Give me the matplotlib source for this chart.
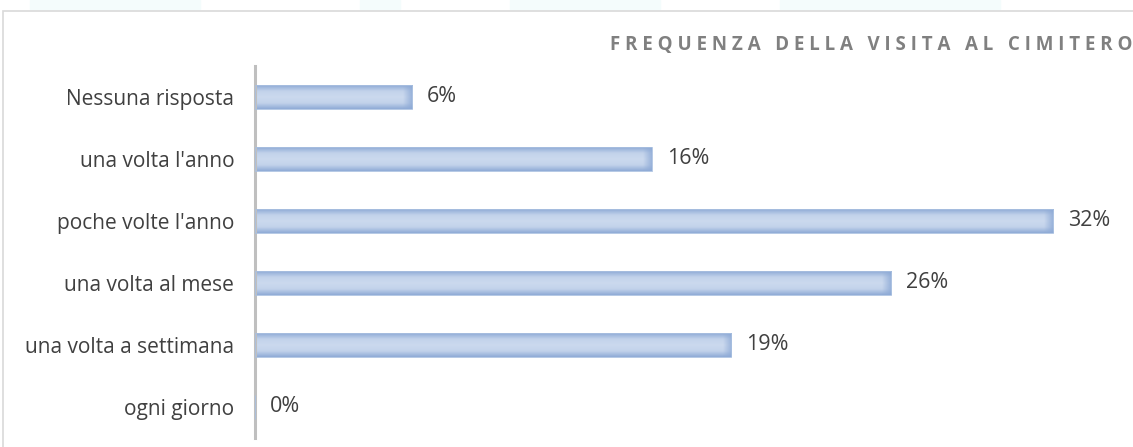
import matplotlib
matplotlib.use("Agg")
import matplotlib.pyplot as plt
import numpy as np
from matplotlib.patches import Rectangle
from matplotlib.colors import LinearSegmentedColormap

# data (percent)
categories = ["ogni giorno", "una volta a settimana", "una volta al mese",
              "poche volte l'anno", "una volta l'anno", "Nessuna risposta"]
values = [0.0, 19.1, 25.5, 32.0, 15.9, 6.3]
labels = ["0%", "19%", "26%", "32%", "16%", "6%"]
title = "FREQUENZA DELLA VISITA AL CIMITERO"

W, H = 1133, 447
fig = plt.figure(figsize=(W / 100, H / 100), dpi=100)
fig.patch.set_facecolor("white")

# faint decorations at very top + light outer frame
for x0, w in [(30, 170), (360, 40), (510, 150), (780, 220)]:
    fig.patches.append(Rectangle((x0 / W, 1 - 9 / H), w / W, 9 / H,
                                 transform=fig.transFigure, color="#f4fcfc", zorder=0))
fig.patches.append(Rectangle((3 / W, -0.05), 1.1, 1 - 11 / H + 0.05,
                             transform=fig.transFigure, fill=False,
                             edgecolor="#d9d9d9", linewidth=1.2, zorder=1))

ax = fig.add_axes([255 / W, (H - 438) / H, (W - 255) / W, 372 / H])
y = np.arange(len(categories))
bh = 0.38
bars = ax.barh(y, values, height=bh, color="none", edgecolor="#a9c0e0",
               linewidth=0.6, zorder=3)

cmap = LinearSegmentedColormap.from_list("bar", ["#8fabd6", "#c3d3eb", "#cbd9ee", "#c3d3eb", "#8fabd6"])
grad = np.linspace(0, 1, 64).reshape(-1, 1)
for b in bars:
    if b.get_width() <= 0:
        continue
    ax.imshow(grad, cmap=cmap, aspect="auto", interpolation="bicubic",
              extent=[b.get_x(), b.get_x() + b.get_width(),
                      b.get_y(), b.get_y() + b.get_height()], zorder=2)
    # darker right end
    ax.imshow(np.linspace(0, 1, 32).reshape(1, -1), aspect="auto",
              cmap=LinearSegmentedColormap.from_list("r", [(0.56, 0.67, 0.84, 0), (0.56, 0.67, 0.84, 0.8)]),
              extent=[b.get_x() + b.get_width() - 0.35, b.get_x() + b.get_width(),
                      b.get_y(), b.get_y() + b.get_height()], zorder=2.5)
ax.set_xlim(0, 35.2)
ax.set_ylim(-0.5, len(categories) - 0.5)

for yi, v, lab in zip(y, values, labels):
    ax.text(v + 0.6, yi, lab, va="center", ha="left", fontsize=15.5,
            color="#404040", family="Open Sans")

ax.set_yticks(y)
ax.set_yticklabels(categories, fontsize=15, color="#404040", family="Open Sans")
ax.tick_params(axis="y", length=0, pad=15)
ax.set_xticks([])
for s in ["top", "right", "bottom"]:
    ax.spines[s].set_visible(False)
ax.spines["left"].set_color("#bfbfbf")
ax.spines["left"].set_linewidth(2.2)

spaced = "   ".join(" ".join(w) for w in title.split())
fig.text(1132 / W, 1 - 45 / H, spaced, ha="right", va="center", fontsize=13.5,
         fontweight="bold", color="#808080", family="Open Sans")

fig.savefig("out.png", dpi=100)
